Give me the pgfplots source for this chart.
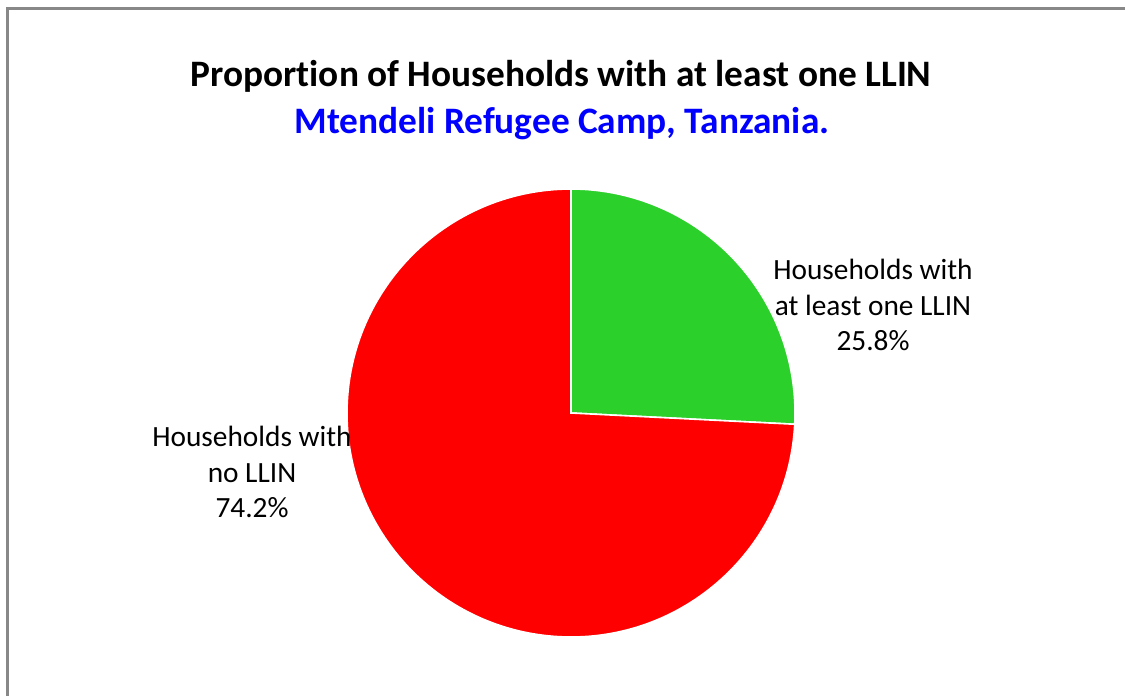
\documentclass[border=0pt]{standalone}
\usepackage{pgfplots}
\pgfplotsset{compat=1.18}
\usepackage{fontspec}
\setmainfont[Ligatures=NoCommon]{Carlito}
\definecolor{pieGreen}{RGB}{43,208,43}
\definecolor{pieRed}{RGB}{255,0,0}
\definecolor{frameGray}{RGB}{136,136,136}

% shares in percent
\def\shareOne{25.8}   % at least one LLIN
\def\shareNone{74.2}  % no LLIN

\begin{document}
\begin{tikzpicture}
\begin{axis}[
    x=0.75pt, y=0.75pt,
    xmin=0, xmax=1125, ymin=0, ymax=696,
    y dir=reverse,
    scale only axis,
    hide axis,
    clip=false,
]
    \coordinate (tl) at (axis cs:0,0);
    \coordinate (br) at (axis cs:1125,696);
    % frame
    \draw[frameGray, line width=2pt] (axis cs:7.5,720) -- (axis cs:7.5,8.5) -- (axis cs:1140,8.5);
    % pie
    \pgfmathsetmacro{\aEnd}{90-\shareOne*3.6}
    \pgfmathsetmacro{\bEnd}{\aEnd-\shareNone*3.6}
    \fill[pieGreen, draw=white, line width=1.2pt] (axis cs:571,413) -- ++(90:168pt)
        arc[start angle=90, end angle=\aEnd, radius=168pt] -- cycle;
    \fill[pieRed, draw=white, line width=1.2pt] (axis cs:571,413) -- ++(\aEnd:168pt)
        arc[start angle=\aEnd, end angle=\bEnd, radius=168pt] -- cycle;
    % titles
    \node[font=\fontsize{28}{32}\selectfont\bfseries] at (axis cs:561,76) {Proportion of Households with at least one LLIN};
    \node[font=\fontsize{28}{32}\selectfont\bfseries, text=blue] at (axis cs:562,124) {Mtendeli Refugee Camp, Tanzania.};
    % labels
    \node[font=\fontsize{22}{26.5}\selectfont, align=center] at (axis cs:873,305)
        {Households with\\at least one LLIN\\\shareOne\%};
    \node[font=\fontsize{22}{26.5}\selectfont, align=center] at (axis cs:252,472)
        {Households with\\no LLIN\\\shareNone\%};
\end{axis}
\pgfresetboundingbox
\path[use as bounding box] (tl) rectangle (br);
\end{tikzpicture}
\end{document}
